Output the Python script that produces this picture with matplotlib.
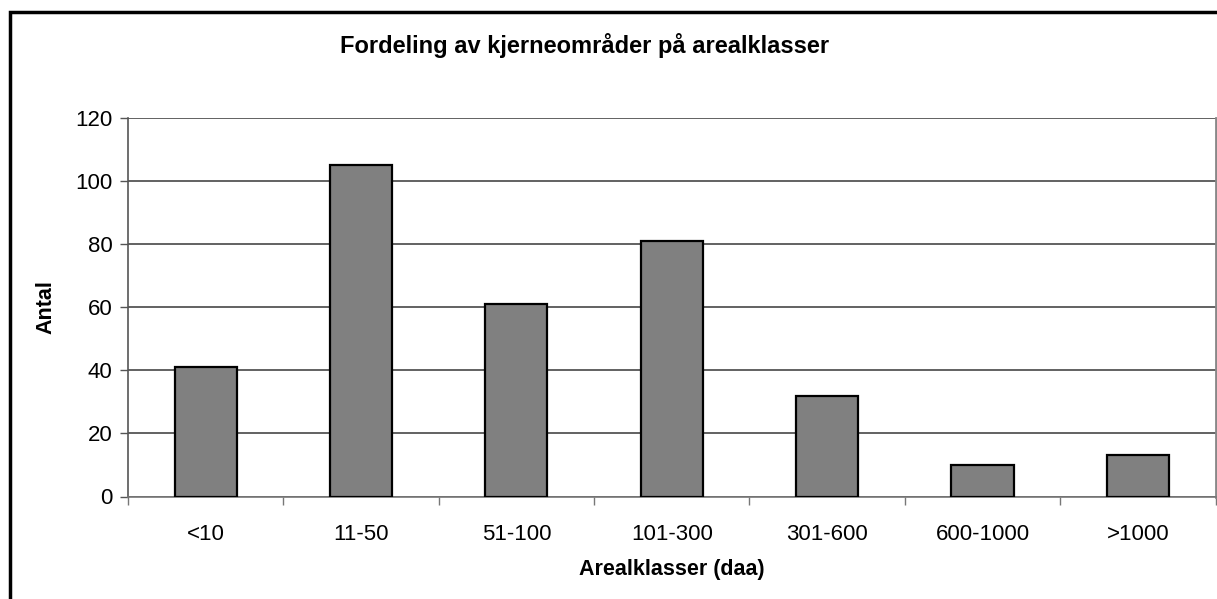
import matplotlib
matplotlib.use("Agg")
import matplotlib.pyplot as plt
from matplotlib.patches import Rectangle
import numpy as np

# data
klasser = ['<10', '11-50', '51-100', '101-300', '301-600', '600-1000', '>1000']
antal = [41, 105, 61, 81, 32, 10, 13]
y_ticks = [0, 20, 40, 60, 80, 100, 120]

plt.rcParams['font.family'] = ['Liberation Sans', 'DejaVu Sans']

fig = plt.figure(figsize=(12.17, 5.99), dpi=100)
W, H = 1217, 599

# outer chart frame (cut off at right and bottom in the original)
fig.patches.append(Rectangle((10 / W, -0.1), 1.2, 1 - 12 / H + 0.1,
                             transform=fig.transFigure, fill=False,
                             edgecolor='black', linewidth=2.5))

ax = fig.add_axes([128 / W, 1 - 496.5 / H, (1215.5 - 128) / W, (496.5 - 118) / H])

x = np.arange(len(klasser))
ax.bar(x, antal, width=0.4, color='#808080', edgecolor='black', linewidth=1.6, zorder=3)

ax.set_xlim(-0.5, len(klasser) - 0.5)
ax.set_ylim(0, 120)
ax.set_yticks(y_ticks)
ax.yaxis.grid(True, color='#555555', linewidth=1.3, zorder=0)

ax.set_xticks(x)
ax.set_xticklabels(klasser, fontsize=16)
ax.set_xticks(np.arange(-0.5, len(klasser)), minor=True)
ax.tick_params(axis='x', which='major', length=0, pad=20)
ax.tick_params(axis='x', which='minor', length=6, width=1, color='#777777', direction='out')
ax.tick_params(axis='y', labelsize=16, length=6, width=1, color='#555555', pad=5)

ax.spines['top'].set_visible(False)
ax.spines['right'].set_color('#888888')
ax.spines['right'].set_linewidth(2)
ax.spines['left'].set_color('#555555')
ax.spines['bottom'].set_color('#777777')
ax.spines['left'].set_linewidth(1.2)
ax.spines['bottom'].set_linewidth(1.2)

ax.set_xlabel('Arealklasser (daa)', fontsize=15.5, fontweight='bold', labelpad=10)
ax.set_ylabel('Antal', fontsize=15.5, fontweight='bold', labelpad=14)

fig.text(585 / W, 1 - 45 / H, 'Fordeling av kjerneområder på arealklasser',
         ha='center', va='center', fontsize=17, fontweight='bold')

fig.savefig('out.png', dpi=100, facecolor='white')
